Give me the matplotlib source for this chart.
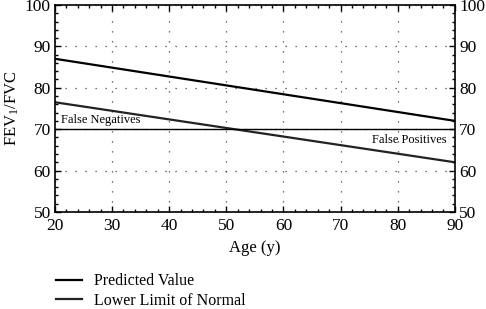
import matplotlib.pyplot as plt
from matplotlib.ticker import MultipleLocator

plt.rcParams['font.family'] = 'Liberation Serif'
plt.rcParams['mathtext.fontset'] = 'custom'
plt.rcParams['mathtext.rm'] = 'Liberation Serif'
plt.rcParams['mathtext.it'] = 'Liberation Serif'

# Data
ages = [20, 90]
predicted = [87.0, 72.0]
lower_limit = [76.5, 62.0]
cutoff = 70

fig = plt.figure(figsize=(4.86, 3.09), dpi=100)
ax = fig.add_axes([0.113, 0.314, 0.823, 0.67])

l1, = ax.plot(ages, predicted, color='black', lw=1.6, label='Predicted Value')
l2, = ax.plot(ages, lower_limit, color='#222222', lw=1.6, label='Lower Limit of Normal')
ax.axhline(cutoff, color='black', lw=1.0)

ax.text(21, 70.8, 'False Negatives', fontsize=9, ha='left', va='bottom')
ax.text(88.5, 68.8, 'False Positives', fontsize=9, ha='right', va='top')

ax.set_xlim(20, 90)
ax.set_ylim(50, 100)
ax.xaxis.set_major_locator(MultipleLocator(10))
ax.xaxis.set_minor_locator(MultipleLocator(2))
ax.yaxis.set_major_locator(MultipleLocator(10))
ax.yaxis.set_minor_locator(MultipleLocator(2))
ax.tick_params(which='both', direction='in', top=True, right=True,
               labelright=True, labelsize=12.5, width=1.0)
ax.tick_params(which='major', length=4)
ax.tick_params(which='minor', length=2.5)
ax.tick_params(axis='x', pad=4)
ax.tick_params(axis='y', pad=3)
ax.grid(True, which='major', linestyle=(0, (1, 7)), color='#444444', lw=0.9)
for s in ax.spines.values():
    s.set_linewidth(1.2)

ax.set_xlabel('Age (y)', fontsize=12, labelpad=5)
ax.set_ylabel('FEV$_1$/FVC', fontsize=12, labelpad=3)

fig.legend(handles=[l1, l2], loc='lower left', bbox_to_anchor=(0.085, -0.045),
           frameon=False, fontsize=11.5, handlelength=1.65, handletextpad=0.75,
           labelspacing=0.2)

fig.savefig('out.png', dpi=100)
